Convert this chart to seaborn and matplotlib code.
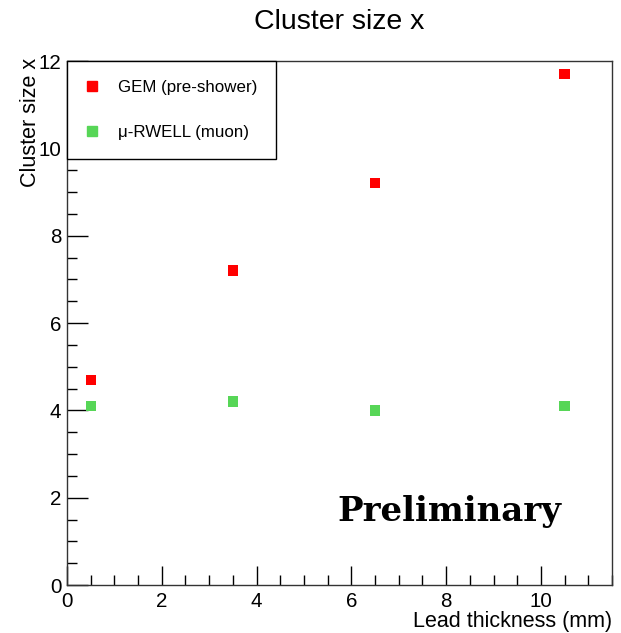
import matplotlib
matplotlib.use("Agg")
import matplotlib.pyplot as plt
import seaborn as sns
import pandas as pd
from matplotlib.ticker import MultipleLocator
from matplotlib.lines import Line2D

lead_mm = [0.5, 3.5, 6.5, 10.5]
gem_vals = [4.7, 7.2, 9.2, 11.7]
rwell_vals = [4.1, 4.2, 4.0, 4.1]
series_names = ["GEM (pre-shower)", "\u03bc-RWELL (muon)"]
colors = ["#ff0000", "#57d657"]

df = pd.DataFrame({
    "x": lead_mm * 2,
    "y": gem_vals + rwell_vals,
    "series": [series_names[0]] * 4 + [series_names[1]] * 4,
})

sns.set_theme(style="white")
plt.rcParams["font.family"] = ["Liberation Sans", "DejaVu Sans"]
plt.rcParams["text.color"] = "black"
plt.rcParams["axes.labelcolor"] = "black"
plt.rcParams["xtick.color"] = "black"
plt.rcParams["ytick.color"] = "black"

fig = plt.figure(figsize=(6.21, 6.33), dpi=100)
ax = fig.add_axes([0.1079, 0.0758, 0.9855 - 0.1079, 0.9036 - 0.0758])

sns.scatterplot(data=df, x="x", y="y", hue="series", palette=colors,
                marker="s", s=55, linewidth=0, ax=ax, legend=False)

ax.set_xlim(0, 11.5)
ax.set_ylim(0, 12)
ax.xaxis.set_major_locator(MultipleLocator(2))
ax.xaxis.set_minor_locator(MultipleLocator(0.5))
ax.yaxis.set_major_locator(MultipleLocator(2))
ax.yaxis.set_minor_locator(MultipleLocator(0.5))
ax.tick_params(which="both", direction="in", top=False, right=False,
               bottom=True, left=True, color="black", width=1)
ax.tick_params(which="major", length=15, labelsize=14.8, pad=4)
ax.tick_params(which="minor", length=7.5)
ax.tick_params(axis="x", which="major", length=14, pad=5)
for sp in ax.spines.values():
    sp.set_color("#333333")
    sp.set_linewidth(1.0)

ax.set_xlabel("Lead thickness (mm)", fontsize=15.5, loc="right")
ax.xaxis.set_label_coords(1.0, -0.049)
ax.set_ylabel("Cluster size x", fontsize=15.5, loc="top")
ax.yaxis.set_label_coords(-0.048, 1.006)
fig.suptitle("Cluster size x", fontsize=20.5, x=0.547, y=0.985)

handles = [Line2D([], [], marker="s", linestyle="none", color=c,
                  markersize=7) for c in colors]
leg = ax.legend(handles, series_names, loc="upper left", bbox_to_anchor=(0, 1),
                borderaxespad=0, frameon=True, fancybox=False, fontsize=12.2,
                labelspacing=1.8, handletextpad=1.15, borderpad=1.1,
                handlelength=0.75)
leg.get_frame().set_edgecolor("black")
leg.get_frame().set_linewidth(1.0)
leg.get_frame().set_alpha(1)

ax.text(0.702, 0.141, "Preliminary", transform=ax.transAxes, ha="center",
        va="center", fontsize=24.5, fontweight="bold", family="DejaVu Serif")

fig.savefig("out.png", dpi=100)
